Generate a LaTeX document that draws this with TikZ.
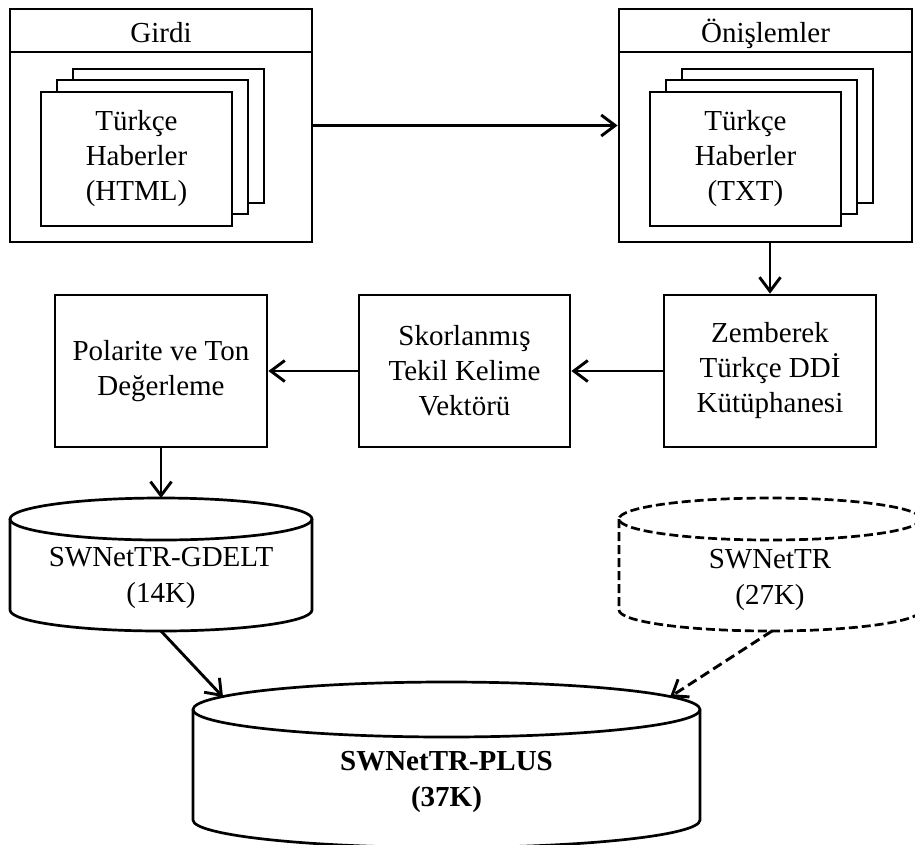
\documentclass[tikz,border=0pt]{standalone}
\usepackage{fontspec}
\setmainfont{Liberation Serif}
\usetikzlibrary{arrows.meta}

% cylinder outline: centre x, top-ellipse centre y, x radius, y radius, body height, style
\newcommand\dbcylinder[6]{%
  \draw[#6] (#1-#3,#2) -- (#1-#3,#2+#5)
    arc[start angle=180,end angle=0,x radius=#3,y radius=#4] -- (#1+#3,#2);
  \draw[#6] (#1,#2) ellipse[x radius=#3,y radius=#4];
}

\begin{document}
\begin{tikzpicture}[x=1pt,y=-1pt,
  line join=miter,
  outline/.style={line width=2.7pt},
  box/.style={draw,outline,fill=white,inner sep=0pt,align=center,
    font=\fontsize{29}{35}\selectfont},
  page/.style={box,minimum width=191pt,minimum height=134pt},
  stepbox/.style={box,minimum height=152pt},
  lbl/.style={align=center,font=\fontsize{29}{36}\selectfont,inner sep=0pt},
  flow/.style={line width=2.9pt,-{Straight Barb[length=14pt,width=21pt]}},
  dflow/.style={flow,dash pattern=on 10pt off 5pt},
  dashedline/.style={outline,dash pattern=on 9pt off 4pt},
]
\useasboundingbox (0,0) rectangle (915,844);
\clip (0,0) rectangle (915,844);

% --- input container
\node[draw,outline,minimum width=302pt,minimum height=233pt,inner sep=0pt] (girdi) at (161,125.5) {};
\draw[outline] (10,52) -- (312,52);
\node[lbl,anchor=base] (girdiT) at (161,42) {Girdi};
\node[page] (g3) at (168.5,136) {};
\node[page] (g2) at (152.5,147) {};
\node[page] (g1) at (136.5,159) {Türkçe\\Haberler\\(HTML)};

% --- preprocessing container
\node[draw,outline,minimum width=293pt,minimum height=233pt,inner sep=0pt] (onis) at (765.5,125.5) {};
\draw[outline] (619,52) -- (912,52);
\node[lbl,anchor=base] (onisT) at (765.5,42) {Önişlemler};
\node[page] (o3) at (777.5,136) {};
\node[page] (o2) at (761.5,147) {};
\node[page] (o1) at (745.5,159) {Türkçe\\Haberler\\(TXT)};

% --- processing steps
\node[stepbox,minimum width=212pt] (pol) at (161,371) {Polarite ve Ton\\Değerleme};
\node[stepbox,minimum width=211pt] (skor) at (464.5,371) {Skorlanmış\\Tekil Kelime\\Vektörü};
\node[stepbox,minimum width=212pt] (zem) at (770,371) {Zemberek\\Türkçe DDİ\\Kütüphanesi};

% --- lexicons
\dbcylinder{161}{519}{151}{21}{91}{outline}
\node[lbl] (gdelt) at (161,578) {SWNetTR-GDELT\\(14K)};
\coordinate (gdeltTop) at (161,498);
\coordinate (gdeltBot) at (161,631);

\dbcylinder{770}{519}{151}{21}{91}{dashedline}
\node[lbl] (swn) at (770,580) {SWNetTR\\(27K)};
\coordinate (swnBot) at (772,631);

\dbcylinder{446.5}{709.5}{253.5}{27.5}{110.5}{outline}
\node[lbl,font=\fontsize{29}{36}\selectfont\bfseries] (plus) at (446.5,782) {SWNetTR-PLUS\\(37K)};
\coordinate (plusL) at (223,697);
\coordinate (plusR) at (670,697);

% --- connectors
\draw[flow] (girdi.east) -- (onis.west);
\draw[flow] (zem.north |- onis.south) -- (zem.north);
\draw[flow] (zem.west) -- (skor.east);
\draw[flow] (skor.west) -- (pol.east);
\draw[flow] (pol.south) -- (gdeltTop);
\draw[flow] (gdeltBot) -- (plusL);
\draw[dflow] (swnBot) -- (plusR);
\end{tikzpicture}
\end{document}
